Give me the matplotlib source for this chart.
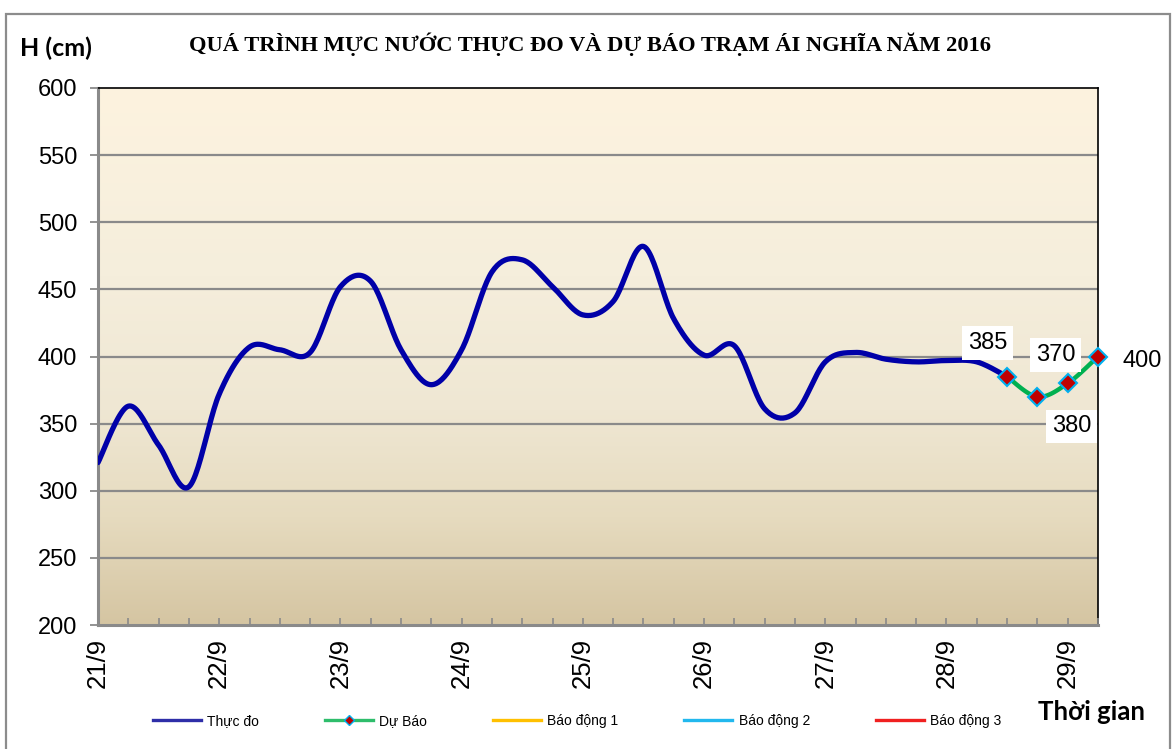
import numpy as np
import matplotlib
matplotlib.use("Agg")
import matplotlib.pyplot as plt
from matplotlib.colors import LinearSegmentedColormap
from matplotlib.lines import Line2D
from matplotlib.patches import Rectangle

# ---------------- data ----------------
day_labels = ["21/9", "22/9", "23/9", "24/9", "25/9", "26/9", "27/9", "28/9", "29/9"]
steps_per_day = 4  # 6-hourly
observed = [321, 363, 334, 303, 372, 407, 405, 403, 452, 456, 405, 379, 405, 463,
            472, 452, 431, 441, 482, 428, 401, 408, 361, 358, 396, 403, 398, 396,
            397, 396, 385]
forecast_start = 30
forecast = [385, 370, 380, 400]
forecast_labels = ["385", "370", "380", "400"]
title = "QUÁ TRÌNH MỰC NƯỚC THỰC ĐO VÀ DỰ BÁO TRẠM ÁI NGHĨA NĂM 2016"
legend_names = ["Thực đo", "Dự Báo", "Báo động 1", "Báo động 2", "Báo động 3"]
y_min, y_max, y_step = 200, 600, 50


def smooth(xs, ys, n=24):
    """Excel-like smoothed line (cubic Bezier with Catmull-Rom tangents)."""
    xs = np.asarray(xs, float)
    ys = np.asarray(ys, float)
    px = np.concatenate([[xs[0]], xs, [xs[-1]]])
    py = np.concatenate([[ys[0]], ys, [ys[-1]]])
    outx, outy = [], []
    t = np.linspace(0, 1, n)
    for i in range(1, len(px) - 2):
        p0x, p1x, p2x, p3x = px[i - 1], px[i], px[i + 1], px[i + 2]
        p0y, p1y, p2y, p3y = py[i - 1], py[i], py[i + 1], py[i + 2]
        c1x = p1x + (p2x - p0x) / 6
        c1y = p1y + (p2y - p0y) / 6
        c2x = p2x - (p3x - p1x) / 6
        c2y = p2y - (p3y - p1y) / 6
        bx = (1 - t) ** 3 * p1x + 3 * (1 - t) ** 2 * t * c1x + 3 * (1 - t) * t ** 2 * c2x + t ** 3 * p2x
        by = (1 - t) ** 3 * p1y + 3 * (1 - t) ** 2 * t * c1y + 3 * (1 - t) * t ** 2 * c2y + t ** 3 * p2y
        outx.extend(bx if i == 1 else bx[1:])
        outy.extend(by if i == 1 else by[1:])
    return np.array(outx), np.array(outy)


fig = plt.figure(figsize=(11.76, 7.49), dpi=100)
fig.patch.set_facecolor("white")
# outer chart border
fig.add_artist(Rectangle((6 / 1176, -0.01), 1164 / 1176, 1 - 14 / 749 + 0.01,
                         transform=fig.transFigure, fill=False,
                         edgecolor="#8c8c8c", lw=1.6))

ax = fig.add_axes([98 / 1176, 1 - 625 / 749, 1000 / 1176, (625 - 88) / 749])

n_cat = forecast_start + len(forecast)
x_obs = np.arange(len(observed))
x_fc = np.arange(forecast_start, forecast_start + len(forecast))

ax.set_xlim(0, n_cat - 1)
ax.set_ylim(y_min, y_max)

# gradient background
cmap = LinearSegmentedColormap.from_list(
    "bg", [(0.0, "#fdf3df"), (0.35, "#f5eedc"), (0.6, "#efe7d3"),
           (0.8, "#e6dbbf"), (1.0, "#d5c5a2")])
grad = np.linspace(0, 1, 256).reshape(-1, 1)
ax.imshow(grad, cmap=cmap, aspect="auto", extent=[0, n_cat - 1, y_min, y_max],
          origin="upper", zorder=0)

# grid
for yv in range(y_min + y_step, y_max, y_step):
    ax.axhline(yv, color="#8a8a8a", lw=1.6, zorder=1)

# series
sx, sy = smooth(x_obs, observed)
ax.plot(sx, sy, color="#0000a8", lw=3.8, solid_capstyle="round", zorder=3)
fx, fy = smooth(x_fc, forecast)
ax.plot(fx, fy, color="#00b050", lw=3.2, zorder=4, clip_on=False)
ax.plot(x_fc, forecast, ls="none", marker="D", ms=9, mfc="#c00000",
        mec="#00b0f0", mew=1.5, zorder=5, clip_on=False)

# data labels
offsets = [(-14, 24), (13, 30), (3, -31), (32, -3)]
for xi, yi, lab, off in zip(x_fc, forecast, forecast_labels, offsets):
    ax.annotate(lab, (xi, yi), xytext=off, textcoords="offset points",
                ha="center", va="center", fontsize=17, family="Liberation Sans",
                bbox=dict(boxstyle="square,pad=0.25", fc="white", ec="none"),
                zorder=6, annotation_clip=False)

# axes styling
ax.set_yticks(np.arange(y_min, y_max + 1, y_step))
ax.tick_params(axis="y", direction="out", length=6, width=1.3, color="#8a8a8a",
               labelsize=17, pad=9)
for lab in ax.get_yticklabels():
    lab.set_fontfamily("Liberation Sans")

major = np.arange(0, len(day_labels) * steps_per_day, steps_per_day)
ax.set_xticks(major)
ax.set_xticklabels(day_labels, rotation=90, fontsize=18.5, family="Liberation Sans")
ax.set_xticks(np.arange(0, n_cat), minor=True)
ax.tick_params(axis="x", which="both", direction="in", length=5, width=1.2,
               color="#8a8a8a", pad=9)

for s in ["left", "bottom"]:
    ax.spines[s].set_color("#8a8a8a")
    ax.spines[s].set_linewidth(2.2)
for s in ["top", "right"]:
    ax.spines[s].set_color("black")
    ax.spines[s].set_linewidth(1.2)
ax.set_axisbelow(False)

# texts
fig.text(590 / 1176, 1 - 44 / 749, title, ha="center", va="center",
         fontsize=16.2, fontweight="bold", family="Liberation Serif")
fig.text(20 / 1176, 1 - 48 / 749, "H (cm)", ha="left", va="center",
         fontsize=18, fontweight="bold", family="Lato")
fig.text(1038 / 1176, 1 - 712 / 749, "Thời gian", ha="left", va="center",
         fontsize=18.5, fontweight="bold", family="Lato")

# legend
handles = [
    Line2D([], [], color="#2e2ea8", lw=2.4),
    Line2D([], [], color="#2ebd6b", lw=2.4, marker="D", ms=5, mfc="#c00000",
           mec="#00b0f0", mew=1),
    Line2D([], [], color="#ffc000", lw=2.4),
    Line2D([], [], color="#22b8ee", lw=2.4),
    Line2D([], [], color="#f02020", lw=2.4),
]
leg = fig.legend(handles, legend_names, loc="center left",
                 bbox_to_anchor=(149 / 1176, 1 - 721 / 749), ncol=5,
                 frameon=False, prop={"family": "Liberation Sans", "size": 10},
                 handlelength=3.45, handletextpad=0.45, columnspacing=4.75,
                 borderaxespad=0, borderpad=0.3)

fig.savefig("out.png", dpi=100)
